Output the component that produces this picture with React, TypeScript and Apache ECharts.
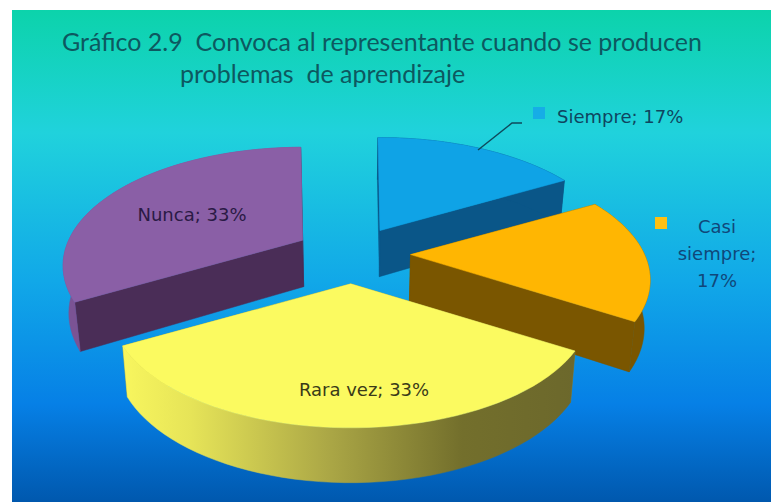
import React, { useEffect, useRef } from "react";
import * as echarts from "echarts";

const categories = ["Siempre", "Casi siempre", "Rara vez", "Nunca"];
const percents = [17, 17, 33, 33];
const titleLines = [
  "Gráfico 2.9  Convoca al representante cuando se producen",
  "problemas  de aprendizaje",
];
const topColors = ["#0fa3e6", "#ffb602", "#fbfa60", "#8a5fa6"];
const wallColors = ["#0a5688", "#7a5600", "#8f8b3a", "#4a2d57"];
const rimColors = ["#0a5688", "#7a5600", "", "#7b5394"];

const CX = 352, CY = 254, A = 234, B = 113, P = 0.215, EXPLODE = 0.25;
const START = (-0.6 * Math.PI) / 180;

function project(u: number, v: number) {
  const w = 1 - P * v;
  return [(A * u) / w, (B * v) / w];
}
function dir(a: number) {
  return [Math.sin(a), -Math.cos(a)];
}

const total = percents.reduce((s, p) => s + p, 0);

function renderSlice(params: any, api: any) {
  const i = params.dataIndex;
  const value = api.value(0);
  const before = percents.slice(0, i).reduce((s, p) => s + p, 0);
  const a0 = START + (before / total) * Math.PI * 2;
  const a1 = START + ((before + value) / total) * Math.PI * 2;
  const mid = (a0 + a1) / 2;
  const [mu, mv] = dir(mid);
  const off = project(mu * EXPLODE, mv * EXPLODE);
  const ax = CX + off[0], ay = CY + off[1];
  const rim: number[][] = [];
  const steps = 48;
  for (let k = 0; k <= steps; k++) {
    const a = a0 + ((a1 - a0) * k) / steps;
    const [u, v] = dir(a);
    const p = project(u, v);
    rim.push([ax + p[0], ay + p[1]]);
  }
  const down = (p: number[]) => [
    p[0] - (p[0] - CX) * 0.02,
    p[1] + 46 + (p[1] - 230) * 0.045,
  ];
  const apex = [ax, ay];
  const first = rim[0], last = rim[rim.length - 1];
  const poly = (points: number[][], fill: any) => ({
    type: "polygon",
    shape: { points },
    style: { fill, stroke: fill, lineWidth: 0.5 },
  });
  const children: any[] = [];
  const wall = wallColors[i];
  const rimFill =
    rimColors[i] ||
    new echarts.graphic.LinearGradient(0, 0, 1, 0, [
      { offset: 0, color: "#f8f65e" },
      { offset: 0.15, color: "#e6e458" },
      { offset: 0.45, color: "#aca846" },
      { offset: 0.75, color: "#736f2c" },
      { offset: 1, color: "#6c682c" },
    ]);
  children.push(poly([first, apex, down(apex), down(first)], wall));
  children.push(poly([last, apex, down(apex), down(last)], wall));
  children.push(poly([...rim, ...rim.slice().reverse().map(down)], rimFill));
  children.push(poly([apex, ...rim], topColors[i]));
  return { type: "group", children };
}

const fontFamily = "'DejaVu Sans', sans-serif";

export default function App() {
  const ref = useRef<HTMLDivElement>(null);
  useEffect(() => {
    const chart = echarts.init(ref.current!, undefined, { renderer: "svg" });
    const pct = (i: number) => `${categories[i]}; ${percents[i]}%`;
    const label = (text: string, x: number, y: number, fill: string, align = "center") => ({
      type: "text",
      x,
      y,
      z: 10,
      style: {
        text,
        fill,
        font: `18px ${fontFamily}`,
        align,
        verticalAlign: "middle",
        lineHeight: 27,
      },
    });
    chart.setOption({
      animation: false,
      backgroundColor: "#ffffff",
      title: [
        {
          text: titleLines[0],
          left: 57,
          top: 23,
          textStyle: { color: "#0d5860", fontFamily: "Lato, sans-serif", fontSize: 25, fontWeight: "normal" },
        },
        {
          text: titleLines[1],
          left: 175,
          top: 55,
          textStyle: { color: "#0d5860", fontFamily: "Lato, sans-serif", fontSize: 25, fontWeight: "normal" },
        },
      ],
      graphic: [
        {
          type: "rect",
          z: -10,
          shape: { x: 12, y: 10, width: 759, height: 492 },
          style: {
            fill: new echarts.graphic.LinearGradient(0, 0, 0, 1, [
              { offset: 0, color: "#0cd3ab" },
              { offset: 0.25, color: "#20d2dc" },
              { offset: 0.55, color: "#11a8e8" },
              { offset: 0.8, color: "#0680e6" },
              { offset: 1, color: "#0058ae" },
            ]),
          },
        },
        {
          type: "polyline",
          z: 10,
          shape: { points: [[478, 150], [512, 123], [522, 123]] },
          style: { stroke: "#0f4a5c", lineWidth: 1.5, fill: "none" },
        },
        { type: "rect", z: 10, shape: { x: 533, y: 107, width: 12, height: 12 }, style: { fill: "#16ade6" } },
        { type: "rect", z: 10, shape: { x: 655, y: 217, width: 12, height: 12 }, style: { fill: "#ffc012" } },
        label(pct(0), 557, 116, "#0f4560", "left"),
        label("Casi\nsiempre;\n17%", 717, 253, "#10477a"),
        label(pct(2), 364, 389, "#3a3a18"),
        label(pct(3), 192, 214, "#2a1a45"),
      ],
      series: [
        {
          type: "custom",
          coordinateSystem: "none",
          renderItem: renderSlice,
          data: percents.map((p) => [p]),
          silent: true,
        },
      ],
    });
    return () => chart.dispose();
  }, []);
  return <div ref={ref} style={{ position: "absolute", left: 0, top: 0, width: 771, height: 502 }} />;
}
